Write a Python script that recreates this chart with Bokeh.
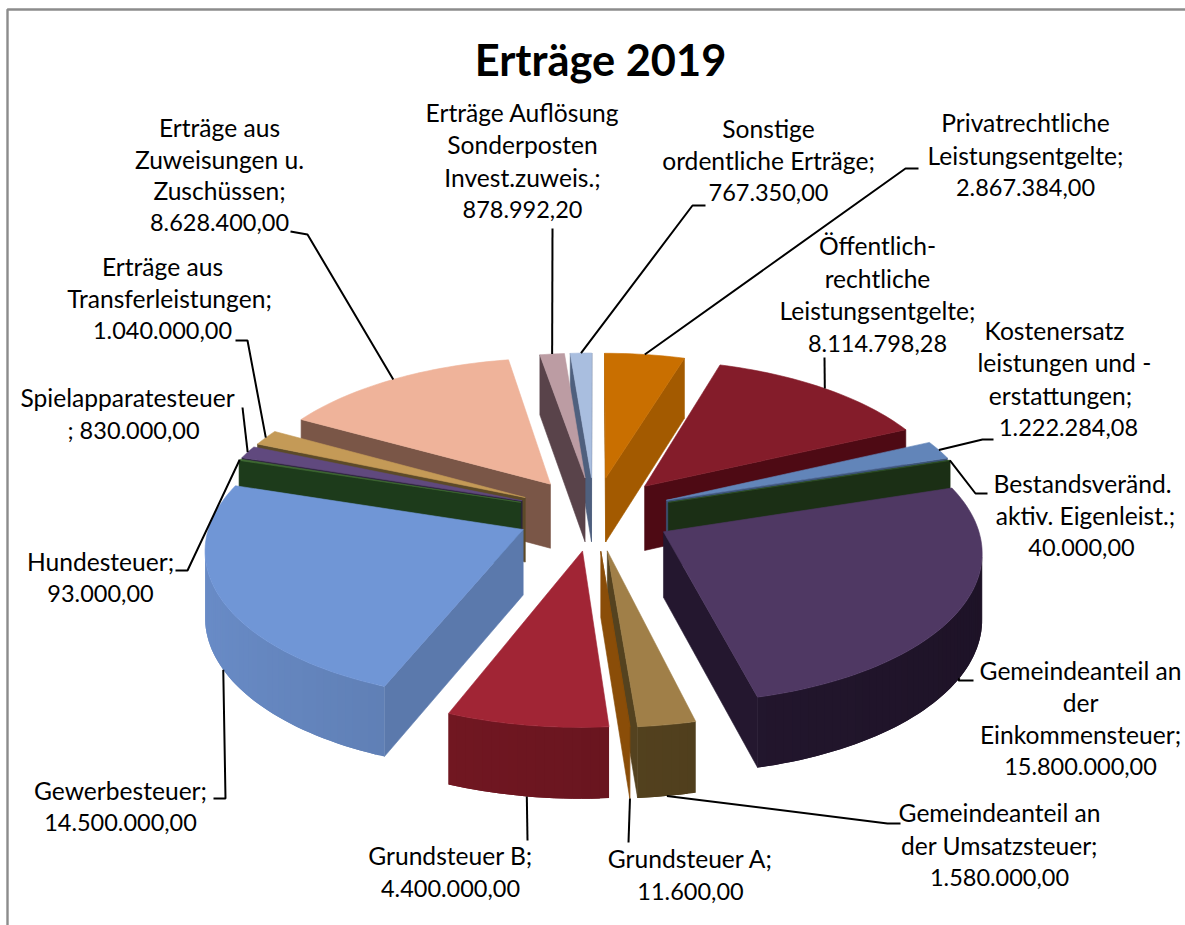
import math
from bokeh.plotting import figure
from bokeh.models import Range1d, ColumnDataSource
from bokeh.core.properties import value
from bokeh.embed import file_html
from bokeh.resources import INLINE

# ---- data, clockwise from twelve o'clock
categories = ["Privatrechtliche Leistungsentgelte", "Öffentlich-rechtliche Leistungsentgelte",
              "Kostenersatzleistungen und -erstattungen", "Bestandsveränd. aktiv. Eigenleist.",
              "Gemeindeanteil an der Einkommensteuer", "Gemeindeanteil an der Umsatzsteuer",
              "Grundsteuer A", "Grundsteuer B", "Gewerbesteuer", "Hundesteuer",
              "Spielapparatesteuer", "Erträge aus Transferleistungen",
              "Erträge aus Zuweisungen u. Zuschüssen", "Erträge Auflösung Sonderposten Invest.zuweis.",
              "Sonstige ordentliche Erträge"]
values = [2867384.00, 8114798.28, 1222284.08, 40000.00, 15800000.00, 1580000.00, 11600.00,
          4400000.00, 14500000.00, 93000.00, 830000.00, 1040000.00, 8628400.00, 878992.20, 767350.00]
top_colors = ["#C96F00", "#841C2A", "#6285B9", "#2D4F24", "#4F3863", "#A07F48", "#8A4D08",
              "#A12535", "#7096D6", "#3F6B32", "#60497E", "#C49A57", "#EFB39A", "#BC9CA3", "#A9BEDF"]
side_colors = ["#A35A00", "#4E0A14", "#3D5478", "#1B2F15", "#24172F", "#54421F", "#8A4D08",
               "#6B1620", "#5B79AC", "#1D3B1B", "#2E2340", "#5C4A28", "#7A5647", "#59434A", "#4F607E"]
label_lines = [
    ["Privatrechtliche", "Leistungsentgelte;", "2.867.384,00"],
    ["Öffentlich-", "rechtliche", "Leistungsentgelte;", "8.114.798,28"],
    ["Kostenersatz", "leistungen und  -", "erstattungen;", "1.222.284,08"],
    ["Bestandsveränd.", "aktiv. Eigenleist.;", "40.000,00"],
    ["Gemeindeanteil an", "der", "Einkommensteuer;", "15.800.000,00"],
    ["Gemeindeanteil an", "der Umsatzsteuer;", "1.580.000,00"],
    ["Grundsteuer A;", "11.600,00"],
    ["Grundsteuer B;", "4.400.000,00"],
    ["Gewerbesteuer;", "14.500.000,00"],
    ["Hundesteuer;", "93.000,00"],
    ["Spielapparatesteuer", "; 830.000,00"],
    ["Erträge aus", "Transferleistungen;", "1.040.000,00"],
    ["Erträge aus", "Zuweisungen u.", "Zuschüssen;", "8.628.400,00"],
    ["Erträge Auflösung", "Sonderposten", "Invest.zuweis.;", "878.992,20"],
    ["Sonstige", "ordentliche Erträge;", "767.350,00"],
]
title_text = "Erträge 2019"

# ---- layout (page pixels)
W, H = 1185, 925
CX, CY = 594.0, 513.0
R, EXPL, DEPTH = 311.0, 78.0, 65.0
TILT, PERSP = 0.472, 0.115
WORD_FONT, NUMBER_FONT, TITLE_FONT = "24.6px", "23.5px", "43.4px"
TEXT_SHIFT = -2
# per label: centre x of each line, y of first line, line pitch
label_pos = [
    ([1025, 1025, 1025], 124, 32.5),
    ([877, 877, 877, 877], 247, 32.5),
    ([1054, 1067, 1060, 1068], 332, 32.3),
    ([1082, 1085, 1081], 485, 32),
    ([1080, 1080, 1080, 1080], 672, 32),
    ([999, 999, 999], 814, 32.5),
    ([690, 690], 860, 33),
    ([450, 450], 857, 33),
    ([120, 120], 792, 32),
    ([100, 100], 563, 32),
    ([127, 133], 399, 32),
    ([162, 169, 162], 268, 32),
    ([219, 219, 219, 219], 129, 31.7),
    ([522, 522, 522, 522], 114, 32.3),
    ([768, 768, 768], 130, 32),
]
# per label: wall level of the anchor (0 top, 1 bottom), where along the rim, way on to the text
leader_level = [0, 0, 0, 0, 1, 1, 1, 1, 1, 0, 0, 0, 0, 0, 0]
leader_frac = [0.5, 0.5, 0.5, 0.5, 0.5, 0.5, 0.5, 0.5, 0.48, 0.5, 0.5, 0.5, 0.5, 0.5, 0.5]
leader_route = [
    [(905, 168), (918, 168)], [(824, 357)], [(982, 439), (993, 439)], [(975, 493), (987, 493)],
    [(958, 680), (973, 680)], [(887, 823), (900, 823)], [(628, 842)], [(527, 840)],
    [(225, 798), (213, 798)], [(187, 570), (175, 570)], [(242, 407)], [(247, 340), (235, 340)],
    [(307, 234), (290, 231)], [(552, 228)], [(692, 205), (705, 205)],
]


def project(X, Y, level):
    s = 1.0 / (1.0 + PERSP * Y / R)
    return CX + X * s, CY - TILT * Y * s + level * DEPTH * s ** 0.6


def shade(hex_col, f):
    c = [int(hex_col[i:i + 2], 16) for i in (1, 3, 5)]
    return "#%02x%02x%02x" % tuple(min(255, max(0, int(v * f))) for v in c)


def area(xs, ys):
    return sum(xs[i] * ys[(i + 1) % len(xs)] - xs[(i + 1) % len(xs)] * ys[i] for i in range(len(xs)))


total = sum(values)
spans, a = [], 0.0
for v in values:
    spans.append((a, a + v / total * 2 * math.pi))
    a += v / total * 2 * math.pi

order = sorted(range(len(values)), key=lambda i: math.cos((spans[i][0] + spans[i][1]) / 2), reverse=True)
xs_all, ys_all, fills, strokes = [], [], [], []


def add(xs, ys, col, stroke=1.0):
    xs_all.append(xs)
    ys_all.append(ys)
    fills.append(col)
    strokes.append(stroke)


def arc_point(i, th, level):
    mid = (spans[i][0] + spans[i][1]) / 2
    return project(EXPL * math.sin(mid) + R * math.sin(th), EXPL * math.cos(mid) + R * math.cos(th), level)


def tip_point(i, level):
    mid = (spans[i][0] + spans[i][1]) / 2
    return project(EXPL * math.sin(mid), EXPL * math.cos(mid), level)


for i in order:
    a0, a1 = spans[i]
    n = max(2, int((a1 - a0) / math.radians(1.5)) + 1)
    ths = [a0 + (a1 - a0) * k / n for k in range(n + 1)]
    # the two cut faces
    for th, sign in ((a0, -1), (a1, 1)):
        t0, t1 = tip_point(i, 0), tip_point(i, 1)
        o0, o1 = arc_point(i, th, 0), arc_point(i, th, 1)
        fx, fy = [t0[0], o0[0], o1[0], t1[0]], [t0[1], o0[1], o1[1], t1[1]]
        if area(fx, fy) * sign > 0:
            add(fx, fy, side_colors[i])
    # outer wall: pieces change tone round the rim, each running on under the next
    for k in range(n):
        top = [arc_point(i, th, 0) for th in ths[k:k + 3]]
        bot = [arc_point(i, th, 1) for th in ths[k:k + 3]]
        fx = [q[0] for q in top] + [q[0] for q in reversed(bot)]
        fy = [q[1] for q in top] + [q[1] for q in reversed(bot)]
        if area(fx, fy) < 0:
            add(fx, fy, shade(side_colors[i], 1.0 - 0.16 * math.sin(ths[k] + (a1 - a0) / (2 * n))), 0.0)
    # top face
    pts = [tip_point(i, 0)] + [arc_point(i, th, 0) for th in ths]
    add([q[0] for q in pts], [q[1] for q in pts], top_colors[i])

p = figure(width=W, height=H, x_range=Range1d(0, W), y_range=Range1d(H, 0),
           output_backend="svg", toolbar_location=None, min_border=0)
p.axis.visible = False
p.grid.visible = False
p.outline_line_color = None
p.background_fill_color = "white"

p.patches("xs", "ys", source=ColumnDataSource(dict(xs=xs_all, ys=ys_all, c=fills, la=strokes)),
          fill_color="c", line_color="c", line_alpha="la", line_width=0.6)

# chart frame: top and left edge only are inside the picture
p.line([7, 7, W], [H, 9, 9], line_color="#8C8C8C", line_width=2.4)

# leader lines
lx, ly = [], []
for i, route in enumerate(leader_route):
    th = spans[i][0] + (spans[i][1] - spans[i][0]) * leader_frac[i]
    start = arc_point(i, th, leader_level[i])
    lx.append([start[0]] + [q[0] for q in route])
    ly.append([start[1]] + [q[1] for q in route])
p.multi_line(lx, ly, line_color="black", line_width=2)

# labels
tx, ty, tt, ts = [], [], [], []
for lines, (cxs, y0, pitch) in zip(label_lines, label_pos):
    for j, line in enumerate(lines):
        tx.append(cxs[j])
        ty.append(y0 + j * pitch + TEXT_SHIFT)
        tt.append(line)
        ts.append(NUMBER_FONT if line[-1].isdigit() else WORD_FONT)
p.text(tx, ty, text=tt, text_font=value("Lato"), text_font_size=ts, text_color="black",
       text_align="center", text_baseline="middle")
p.text([600], [60 + TEXT_SHIFT], text=[title_text], text_font=value("Lato"), text_font_size=TITLE_FONT,
       text_font_style="bold", text_color="black", text_align="center", text_baseline="middle")

open("out.html", "w").write(file_html(p, INLINE))
